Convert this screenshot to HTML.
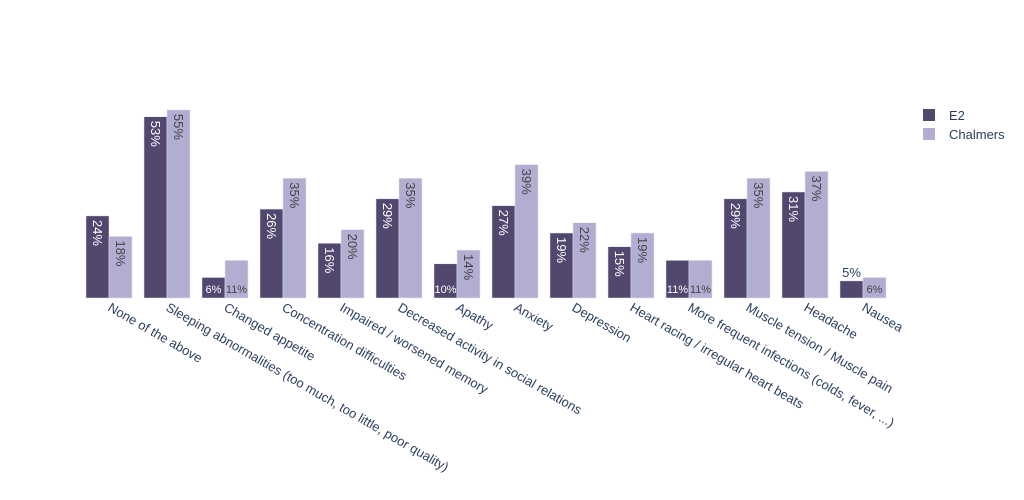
<!DOCTYPE html>
<html><head><meta charset="utf-8"><style>
body{margin:0;background:#fff;}
svg{display:block;font-family:"Liberation Sans",sans-serif;}
</style></head><body>
<svg id="chart" width="1024" height="500">
<g id="bars"></g>
<g id="xlabels"></g>
<g>
<g><rect x="923" y="109" width="12" height="12" fill="#51476f"/><text x="949" y="120" font-size="13" fill="#2a3f5f">E2</text></g>
<g><rect x="923" y="128" width="12" height="12" fill="#b1aed2"/><text x="949" y="139" font-size="13" fill="#2a3f5f">Chalmers</text></g>
</g>
</svg>
<script>
const categories=["None of the above","Sleeping abnormalities (too much, too little, poor quality)","Changed appetite","Concentration difficulties","Impaired / worsened memory","Decreased  activity in social relations","Apathy","Anxiety","Depression","Heart racing / irregular heart beats","More frequent infections (colds, fever, ...)","Muscle tension / Muscle pain","Headache","Nausea"];
const e2Values=[24,53,6,26,16,29,10,27,19,15,11,29,31,5];
const chalmersValues=[18,55,11,35,20,35,14,39,22,19,11,35,37,6];
const e2Labels=["24%","53%","6%","26%","16%","29%","10%","27%","19%","15%","11%","29%","31%","5%"];
const chalmersLabels=["18%","55%","11%","35%","20%","35%","14%","39%","22%","19%","11%","35%","37%","6%"];

const NS="http://www.w3.org/2000/svg";
const x0=80, step=58, base=298, pxPer=3.42;
const xCat=i=>x0+i*step;
const yVal=v=>base-v*pxPer;
const bars=document.getElementById('bars'), xl=document.getElementById('xlabels');
function mk(tag,attrs,parent){const e=document.createElementNS(NS,tag);for(const k in attrs)e.setAttribute(k,attrs[k]);parent.appendChild(e);return e;}
const series=[{vals:e2Values,labs:e2Labels,color:"#51476f",tc:"#fff",off:6,name:"e2"},{vals:chalmersValues,labs:chalmersLabels,color:"#b1aed2",tc:"#444",off:29,name:"chalmers"}];
categories.forEach((c,i)=>{
  series.forEach(s=>{
    const v=s.vals[i], x=xCat(i)+s.off, y=yVal(v), h=base-y;
    const r=mk('rect',{x:x,y:y,width:23,height:h,fill:s.color,stroke:"#e5e5ef","stroke-width":0.5},bars);
    
    
    let t;
    if(h>40){
      t=mk('text',{transform:`translate(${x+7},${y+4}) rotate(90)`,"font-size":13,fill:s.tc},bars);
    } else if(h>=19){
      t=mk('text',{x:x+11.5,y:base-5,"text-anchor":"middle","font-size":11,fill:s.tc},bars);
    } else {
      t=mk('text',{x:x+11.5,y:y-4,"text-anchor":"middle","font-size":13,fill:"#2a3f5f"},bars);
    }
    if(h<19 && s.name==="chalmers"){t.setAttribute('y',base-5);t.setAttribute('font-size',11);t.setAttribute('fill','#444');}
    t.textContent=s.labs[i];
    
    
  });
  const cx=xCat(i)+29;
  const lt=mk('text',{transform:`translate(${cx-2},${310}) rotate(30)`,"font-size":13,fill:"#2a3f5f"},xl);
  lt.textContent=c;
  
  
});
</script>
</body></html>
